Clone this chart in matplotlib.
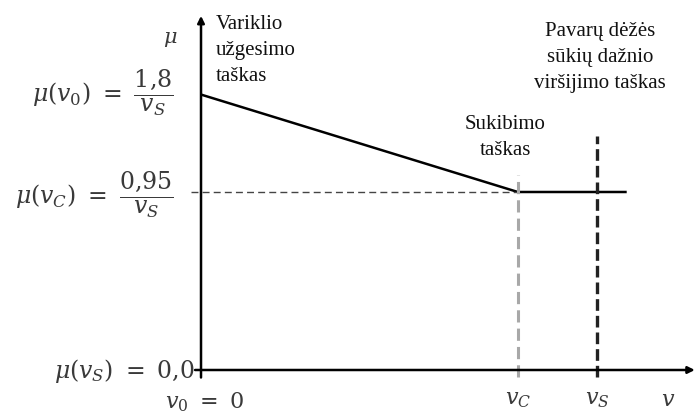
import matplotlib.pyplot as plt

plt.rcParams['mathtext.fontset'] = 'dejavuserif'

# schematic values (v in units of v_S, mu levels as drawn)
v_points = [0.0, 0.80, 1.0]
mu_points = [1.47, 0.95, 0.95]
v_c = 0.80
v_s = 1.0
mu_c = 0.95

fig = plt.figure(figsize=(6.96, 4.14), dpi=100)
ax = fig.add_axes([0, 0, 1, 1])
ax.set_xlim(-0.5076, 1.25)
ax.set_ylim(-0.2295, 1.98)
ax.axis('off')

# axes with arrows
ax.annotate('', xy=(0, 1.89), xytext=(0, -0.04),
            arrowprops=dict(arrowstyle='-|>', color='black', lw=1.8,
                            mutation_scale=10, shrinkA=0, shrinkB=0))
ax.annotate('', xy=(1.247, 0), xytext=(-0.015, 0),
            arrowprops=dict(arrowstyle='-|>', color='black', lw=1.8,
                            mutation_scale=10, shrinkA=0, shrinkB=0))

# friction curve
ax.plot([v_points[0], v_points[1], 1.075], [mu_points[0], mu_points[1], mu_points[2]],
        color='black', lw=1.8, solid_capstyle='butt')

# guide lines
ax.plot([-0.025, v_c], [mu_c, mu_c], color='#444444', lw=1.0, dashes=(5, 3))
ax.plot([v_c, v_c], [-0.04, 1.04], color='#a8a8a8', lw=2.2, dashes=(4, 2))
ax.plot([v_s, v_s], [-0.04, 1.25], color='#222222', lw=2.4, dashes=(3.5, 1.5))

mcol = '#3a3a3a'
fs = 17
ax.text(-0.078, 1.77, r'$\mu$', fontsize=15, color=mcol, ha='center', va='center')
ax.text(-0.07, 1.483, r'$\mu(v_0)\ =\ \dfrac{1{,}8}{v_S}$', fontsize=fs,
        color=mcol, ha='right', va='center')
ax.text(-0.07, 0.939, r'$\mu(v_C)\ =\ \dfrac{0{,}95}{v_S}$', fontsize=fs,
        color=mcol, ha='right', va='center')
ax.text(-0.017, 0.0, r'$\mu(v_S)\ =\ 0{,}0$', fontsize=fs, color=mcol,
        ha='right', va='center')
ax.text(0.01, -0.165, r'$v_0\ =\ 0$', fontsize=16, color=mcol, ha='center', va='center')
ax.text(v_c, -0.155, r'$v_C$', fontsize=16, color=mcol, ha='center', va='center')
ax.text(v_s, -0.155, r'$v_S$', fontsize=16, color=mcol, ha='center', va='center')
ax.text(1.179, -0.155, r'$v$', fontsize=16, color=mcol, ha='center', va='center')

tfont = dict(family='Liberation Serif', fontsize=15, color='#111111', linespacing=1.5)
ax.text(0.038, 1.90, 'Variklio\nužgesimo\ntaškas', ha='left', va='top', **tfont)
ax.text(1.008, 1.865, 'Pavarų dėžės\nsūkių dažnio\nviršijimo taškas',
        ha='center', va='top', multialignment='center', **tfont)
ax.text(0.768, 1.365, 'Sukibimo\ntaškas', ha='center', va='top',
        multialignment='center', **tfont)

fig.savefig('out.png', dpi=100)
